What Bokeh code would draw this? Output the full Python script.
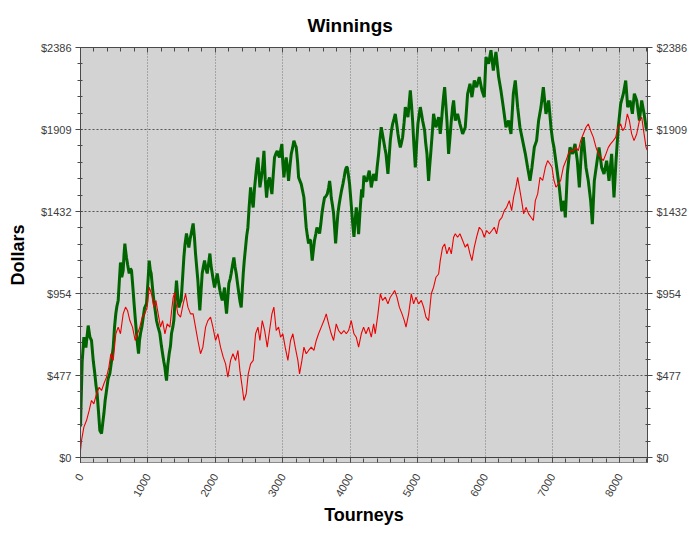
from math import pi
from bokeh.plotting import figure
from bokeh.models import Range1d, FixedTicker, LinearAxis, CustomJSTickFormatter, Span
from bokeh.embed import file_html
from bokeh.resources import INLINE

# ---- data ----
green_t = [0, 25, 50, 80, 114, 140, 163, 190, 212, 230, 247, 270, 287, 312, 330, 347, 365, 386, 410, 435,
           460, 485, 505, 524, 540, 559, 575, 593, 612, 633, 645, 658, 670, 682, 700, 722, 740, 757, 775, 791,
           810, 831, 845, 861, 875, 890, 910, 930, 950, 979, 1000, 1019, 1035, 1048, 1070, 1088, 1110, 1128, 1150, 1177,
           1200, 1217, 1235, 1252, 1265, 1276, 1295, 1316, 1335, 1350, 1370, 1385, 1400, 1424, 1440, 1459, 1475, 1493, 1515, 1533,
           1550, 1572, 1590, 1607, 1625, 1642, 1655, 1671, 1690, 1706, 1725, 1741, 1755, 1770, 1790, 1805, 1822, 1840, 1860, 1880,
           1900, 1919, 1935, 1954, 1970, 1988, 2010, 2028, 2048, 2068, 2085, 2102, 2120, 2137, 2150, 2166, 2185, 2201, 2220, 2235,
           2255, 2275, 2292, 2310, 2330, 2349, 2365, 2384, 2400, 2414, 2430, 2448, 2465, 2483, 2500, 2523, 2540, 2562, 2580, 2597,
           2615, 2632, 2648, 2661, 2680, 2696, 2710, 2721, 2740, 2760, 2780, 2804, 2820, 2839, 2860, 2878, 2900, 2918, 2935, 2952,
           2970, 2987, 3000, 3017, 3035, 3051, 3070, 3086, 3105, 3126, 3145, 3165, 3185, 3200, 3220, 3235, 3255, 3274, 3295, 3314,
           3330, 3348, 3365, 3383, 3400, 3413, 3425, 3437, 3455, 3472, 3490, 3507, 3525, 3546, 3565, 3581, 3600, 3620, 3640, 3660,
           3680, 3695, 3710, 3719, 3737, 3754, 3770, 3784, 3800, 3818, 3835, 3853, 3870, 3892, 3910, 3927, 3945, 3957, 3975, 3991,
           4010, 4026, 4040, 4056, 4072, 4090, 4108, 4125, 4150, 4170, 4185, 4204, 4230, 4249, 4265, 4283, 4300, 4313, 4330, 4348,
           4365, 4382, 4400, 4422, 4440, 4461, 4480, 4496, 4515, 4531, 4545, 4560, 4578, 4595, 4612, 4630, 4650, 4669, 4690, 4709,
           4725, 4744, 4760, 4778, 4800, 4818, 4840, 4857, 4875, 4892, 4910, 4926, 4945, 4966, 4985, 5005, 5022, 5040, 5058, 5074,
           5090, 5104, 5120, 5139, 5150, 5163, 5180, 5198, 5218, 5237, 5255, 5272, 5292, 5312, 5325, 5336, 5355, 5371, 5385, 5401,
           5418, 5435, 5448, 5460, 5480, 5500, 5519, 5534, 5559, 5593, 5628, 5668, 5707, 5742, 5777, 5806, 5841, 5875, 5915, 5955,
           5989, 6014, 6053, 6088, 6123, 6162, 6202, 6236, 6271, 6311, 6350, 6385, 6420, 6449, 6484, 6518, 6558, 6598, 6632, 6667,
           6696, 6731, 6765, 6795, 6830, 6865, 6904, 6944, 6978, 7003, 7023, 7063, 7102, 7137, 7171, 7191, 7221, 7260, 7300, 7335,
           7369, 7399, 7433, 7458, 7498, 7532, 7567, 7592, 7621, 7656, 7691, 7730, 7765, 7804, 7839, 7878, 7913, 7943, 7977, 8012,
           8052, 8087, 8116, 8151, 8186, 8215, 8250, 8290, 8324, 8359, 8389, 8405]
green_v = [180, 560, 700, 640, 768, 700, 681, 560, 489, 420, 372, 250, 157, 140, 200, 256, 330, 390, 460, 489,
           560, 640, 760, 838, 880, 914, 1020, 1135, 1050, 1088, 1180, 1245, 1200, 1164, 1120, 1071, 1100, 1088, 1000, 914,
           820, 722, 660, 605, 680, 722, 760, 815, 870, 896, 1020, 1146, 1090, 1071, 980, 914, 850, 797, 760, 722,
           650, 605, 560, 524, 480, 448, 540, 605, 650, 722, 760, 800, 900, 1030, 950, 873, 900, 914, 1050, 1164,
           1240, 1304, 1260, 1222, 1270, 1304, 1330, 1362, 1280, 1187, 1100, 1030, 940, 856, 980, 1071, 1110, 1146, 1100, 1071,
           1130, 1187, 1120, 1071, 1030, 989, 1030, 1071, 1020, 972, 940, 914, 950, 989, 900, 838, 930, 1013, 1040, 1071,
           1120, 1164, 1110, 1071, 1010, 954, 910, 873, 980, 1071, 1150, 1222, 1290, 1339, 1450, 1572, 1510, 1455, 1560, 1630,
           1700, 1746, 1650, 1572, 1620, 1669, 1730, 1785, 1620, 1513, 1600, 1630, 1580, 1533, 1650, 1746, 1770, 1785, 1760, 1746,
           1790, 1824, 1720, 1630, 1700, 1746, 1680, 1610, 1690, 1767, 1800, 1844, 1820, 1805, 1720, 1630, 1610, 1591, 1550, 1513,
           1430, 1339, 1290, 1246, 1265, 1265, 1200, 1146, 1210, 1265, 1300, 1339, 1320, 1304, 1360, 1420, 1470, 1513, 1520, 1533,
           1570, 1610, 1560, 1513, 1470, 1420, 1330, 1246, 1330, 1420, 1470, 1513, 1550, 1591, 1630, 1669, 1690, 1688, 1640, 1591,
           1500, 1420, 1350, 1284, 1370, 1455, 1400, 1300, 1455, 1560, 1513, 1640, 1610, 1610, 1640, 1669, 1620, 1572, 1610, 1650,
           1630, 1610, 1690, 1767, 1850, 1922, 1880, 1844, 1800, 1767, 1710, 1650, 1750, 1844, 1900, 1942, 1970, 2000, 1940, 1883,
           1840, 1805, 1830, 1864, 1950, 2039, 2010, 1981, 2060, 2136, 2050, 1961, 1820, 1688, 1820, 1942, 1990, 2039, 2000, 1961,
           1930, 1903, 1830, 1767, 1690, 1610, 1700, 1786, 1890, 2000, 1960, 1922, 1950, 1981, 1930, 1883, 1960, 2039, 2100, 2155,
           2060, 1961, 1860, 1767, 1860, 1961, 2039, 2078, 1961, 2000, 1942, 1883, 1922, 2117, 2175, 2097, 2194, 2155, 2214, 2136,
           2097, 2330, 2291, 2370, 2252, 2360, 2214, 2136, 2039, 1922, 1961, 1883, 2117, 2194, 2039, 1922, 1844, 1767, 1688, 1610,
           1688, 1805, 1844, 1961, 2039, 2155, 2000, 2078, 1922, 1844, 1805, 1688, 1572, 1436, 1494, 1397, 1650, 1805, 1767, 1825,
           1727, 1572, 1805, 1864, 1688, 1610, 1494, 1358, 1610, 1708, 1805, 1688, 1650, 1727, 1610, 1767, 1513, 1727, 1922, 2058,
           2117, 2194, 2039, 2078, 2000, 2117, 2078, 1961, 2078, 2000, 1922, 1900]

red_t = [0, 15, 50, 89, 129, 163, 198, 238, 277, 312, 347, 386, 421, 450, 485, 524, 559, 593, 633, 668,
         697, 732, 771, 811, 846, 880, 915, 954, 989, 1019, 1053, 1088, 1118, 1152, 1187, 1217, 1252, 1286, 1326, 1350,
         1375, 1400, 1410, 1444, 1484, 1523, 1558, 1593, 1632, 1671, 1706, 1741, 1780, 1815, 1855, 1889, 1929, 1964, 2003, 2038,
         2077, 2117, 2152, 2186, 2226, 2261, 2300, 2335, 2364, 2399, 2424, 2458, 2488, 2523, 2562, 2597, 2632, 2661, 2696, 2731,
         2770, 2804, 2839, 2868, 2903, 2938, 2967, 3001, 3036, 3076, 3115, 3150, 3185, 3224, 3249, 3284, 3314, 3348, 3383, 3423,
         3462, 3497, 3531, 3571, 3611, 3645, 3680, 3719, 3754, 3793, 3828, 3867, 3907, 3942, 3976, 4016, 4056, 4090, 4125, 4165,
         4199, 4234, 4273, 4313, 4348, 4372, 4412, 4447, 4481, 4521, 4560, 4595, 4630, 4660, 4694, 4729, 4769, 4803, 4828, 4867,
         4907, 4941, 4976, 5015, 5055, 5089, 5124, 5163, 5203, 5237, 5272, 5312, 5336, 5371, 5401, 5435, 5470, 5500, 5534, 5559,
         5593, 5628, 5668, 5707, 5742, 5777, 5806, 5841, 5875, 5915, 5955, 5989, 6024, 6063, 6103, 6137, 6172, 6212, 6251, 6286,
         6321, 6360, 6395, 6424, 6459, 6484, 6509, 6543, 6573, 6608, 6647, 6682, 6717, 6746, 6781, 6816, 6855, 6895, 6929, 6964,
         6993, 7023, 7053, 7087, 7122, 7161, 7201, 7236, 7270, 7310, 7349, 7384, 7419, 7458, 7498, 7532, 7567, 7607, 7646, 7681,
         7715, 7755, 7794, 7829, 7863, 7903, 7938, 7972, 8012, 8042, 8076, 8111, 8141, 8175, 8210, 8250, 8290, 8324, 8359, 8389,
         8405]
red_v = [41, 99, 177, 215, 274, 332, 312, 371, 409, 390, 429, 468, 526, 604, 565, 720, 759, 720, 836, 875,
         856, 797, 759, 681, 720, 759, 817, 836, 875, 991, 953, 875, 914, 836, 759, 797, 720, 778, 759, 850,
         933, 960, 914, 836, 817, 894, 953, 875, 836, 836, 759, 681, 604, 642, 759, 797, 817, 759, 681, 720,
         642, 584, 545, 468, 565, 604, 565, 623, 507, 409, 332, 371, 487, 545, 565, 720, 759, 681, 797, 740,
         642, 739, 836, 875, 739, 759, 700, 720, 642, 565, 681, 720, 642, 565, 487, 565, 642, 604, 623, 642,
         623, 681, 720, 759, 797, 836, 778, 720, 681, 778, 739, 720, 739, 720, 739, 797, 720, 700, 642, 720,
         759, 720, 759, 700, 778, 720, 836, 953, 914, 933, 894, 933, 953, 972, 933, 875, 836, 797, 759, 836,
         953, 894, 933, 894, 914, 875, 817, 797, 953, 991, 1049, 1068, 1146, 1224, 1243, 1185, 1224, 1185, 1282, 1302,
         1282, 1302, 1263, 1224, 1243, 1185, 1146, 1224, 1282, 1340, 1321, 1282, 1321, 1302, 1321, 1340, 1302, 1379, 1398, 1437,
         1456, 1495, 1437, 1515, 1573, 1631, 1573, 1495, 1418, 1456, 1418, 1398, 1379, 1495, 1534, 1631, 1612, 1689, 1728, 1708,
         1689, 1612, 1573, 1592, 1612, 1689, 1728, 1767, 1786, 1786, 1805, 1786, 1844, 1883, 1922, 1941, 1902, 1863, 1805, 1767,
         1747, 1728, 1767, 1805, 1825, 1844, 1863, 1922, 1941, 1902, 1922, 2000, 1961, 1883, 1844, 1883, 1961, 1980, 1883, 1805,
         1790]

x_ticks = [0, 1000, 2000, 3000, 4000, 5000, 6000, 7000, 8000]
x_minor = list(range(0, 8401, 200))
y_ticks = [0, 477.2, 954.4, 1431.6, 1908.8, 2386]
y_minor = [round(i * 95.44, 2) for i in range(26)]

FONT = "Liberation Sans"

p = figure(frame_width=567, frame_height=415,
           x_range=Range1d(0, 8410), y_range=Range1d(-29, 2386),
           output_backend="svg", toolbar_location=None,
           min_border_left=80, min_border_right=37, min_border_top=47, min_border_bottom=61,
           background_fill_color="#d3d3d3", border_fill_color="white",
           outline_line_color="#5a5a5a", title="Winnings")

p.title.align = "left"
p.title.offset = 227
p.title.standoff = 23
p.title.text_font = FONT
p.title.text_font_size = "19px"
p.title.text_font_style = "bold"
p.title.text_color = "black"

# grid
p.xgrid.ticker = FixedTicker(ticks=x_ticks)
p.ygrid.ticker = FixedTicker(ticks=y_ticks)
p.xgrid.grid_line_color = "#777777"
p.xgrid.grid_line_dash = "1 2"
p.ygrid.grid_line_color = "#555555"
p.ygrid.grid_line_dash = "2 2"

yfmt = CustomJSTickFormatter(code="return '$' + Math.round(tick).toString();")

def style_axis(ax):
    ax.major_label_text_font = FONT
    ax.major_label_text_font_size = "11px"
    ax.major_label_text_color = "#3c3c3c"
    ax.axis_line_color = "#4a4a4a"
    ax.major_tick_line_color = "#4a4a4a"
    ax.minor_tick_line_color = "#4a4a4a"
    ax.axis_label_text_font = FONT
    ax.axis_label_text_font_size = "18px"
    ax.axis_label_text_font_style = "bold"
    ax.axis_label_text_color = "black"

# bottom axis
xa = p.xaxis[0]
xa.ticker = FixedTicker(ticks=x_ticks, minor_ticks=x_minor)
style_axis(xa)
xa.major_tick_in = 5
xa.major_tick_out = 0
xa.minor_tick_in = 4
xa.minor_tick_out = 0
xa.major_label_orientation = pi / 3
xa.major_label_standoff = 12
xa.axis_label = "Tourneys"
xa.axis_label_standoff = 2
xa.axis_line_color = "#8a8a8a"

# left axis
ya = p.yaxis[0]
ya.ticker = FixedTicker(ticks=y_ticks, minor_ticks=y_minor)
ya.formatter = yfmt
style_axis(ya)
ya.major_tick_in = 2
ya.major_tick_out = 5
ya.minor_tick_in = 2
ya.minor_tick_out = 3
ya.major_label_standoff = 4
ya.axis_label = "Dollars"
ya.axis_label_standoff = 10

# right axis
ra = LinearAxis(ticker=FixedTicker(ticks=y_ticks, minor_ticks=y_minor), formatter=yfmt)
style_axis(ra)
ra.major_tick_in = 2
ra.major_tick_out = 5
ra.minor_tick_in = 2
ra.minor_tick_out = 3
ra.major_label_standoff = 4
p.add_layout(ra, "right")

# top axis (ticks only, labels hidden)
ta = LinearAxis(ticker=FixedTicker(ticks=x_ticks, minor_ticks=x_minor))
style_axis(ta)
ta.major_tick_in = 5
ta.major_tick_out = 0
ta.minor_tick_in = 4
ta.minor_tick_out = 0
ta.major_label_text_color = None
ta.major_label_standoff = 0
p.add_layout(ta, "above")

p.add_layout(Span(location=0, dimension="width", line_color="#404040", line_width=1))

p.line(green_t, green_v, line_color="#006400", line_width=3.0)
p.line(red_t, red_v, line_color="#ee0000", line_width=1.1)

open("out.html", "w").write(file_html(p, INLINE))
